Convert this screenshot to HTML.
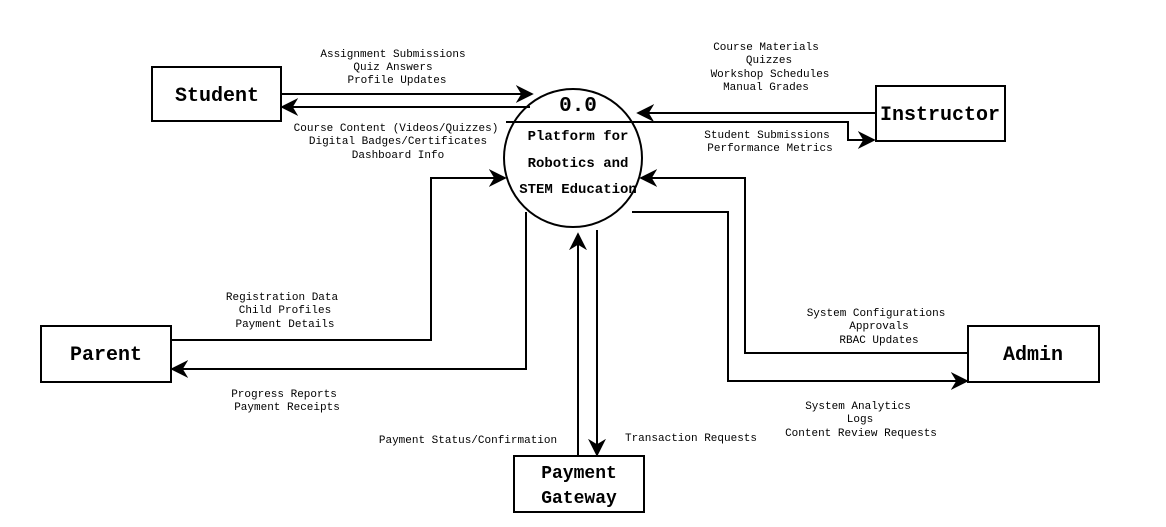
<!DOCTYPE html>
<html><head><style>body{margin:0;background:#fff}svg{display:block}text{font-family:"Liberation Mono",monospace;fill:#000}</style></head><body>
<svg width="1166" height="527" viewBox="0 0 1166 527">
<defs>
<marker id="b" viewBox="0 0 10 10" refX="9" refY="5" markerWidth="18" markerHeight="18" orient="auto" markerUnits="userSpaceOnUse"><path d="M0,0 L10,5 L0,10 L3,5 z"/></marker></defs>
<g fill="none" stroke="#000" stroke-width="2">
<rect x="152" y="67" width="129" height="54"/>
<rect x="876" y="86" width="129" height="55"/>
<rect x="41" y="326" width="130" height="56"/>
<rect x="968" y="326" width="131" height="56"/>
<rect x="514" y="456" width="130" height="56"/>
<circle cx="573" cy="158" r="69"/>
<line x1="506" y1="122" x2="640" y2="122"/>
<polyline points="281,94 532,94" marker-end="url(#b)"/>
<polyline points="530,107 282,107" marker-end="url(#b)"/>
<polyline points="876,113 638,113" marker-end="url(#b)"/>
<polyline points="640,122 848,122 848,140 874,140" marker-end="url(#b)"/>
<polyline points="171,340 431,340 431,178 505,178" marker-end="url(#b)"/>
<polyline points="526,212 526,369 172,369" marker-end="url(#b)"/>
<polyline points="968,353 745,353 745,178 641,178" marker-end="url(#b)"/>
<polyline points="632,212 728,212 728,381 967,381" marker-end="url(#b)"/>
<polyline points="578,456 578,234" marker-end="url(#b)"/>
<polyline points="597,230 597,455" marker-end="url(#b)"/>
</g>
<g font-weight="bold" font-size="20" text-anchor="middle">
<text x="217" y="101">Student</text>
<text x="940" y="120">Instructor</text>
<text x="106" y="360">Parent</text>
<text x="1033" y="360">Admin</text>
<text x="579" y="478" font-size="18">Payment</text>
<text x="579" y="503" font-size="18">Gateway</text>
<text x="578" y="111" font-size="21">0.0</text>
<text x="578" y="140" font-size="14">Platform for</text>
<text x="578" y="167" font-size="14">Robotics and</text>
<text x="578" y="193" font-size="14">STEM Education</text>
</g>
<g font-size="11" text-anchor="middle">
<text x="393" y="57">Assignment Submissions</text><text x="393" y="70">Quiz Answers</text><text x="397" y="83">Profile Updates</text>
<text x="396" y="131">Course Content (Videos/Quizzes)</text><text x="398" y="144">Digital Badges/Certificates</text><text x="398" y="158">Dashboard Info</text>
<text x="766" y="50">Course Materials</text><text x="769" y="63">Quizzes</text><text x="770" y="77">Workshop Schedules</text><text x="766" y="90">Manual Grades</text>
<text x="767" y="138">Student Submissions</text><text x="770" y="151">Performance Metrics</text>
<text x="282" y="300">Registration Data</text><text x="285" y="313">Child Profiles</text><text x="285" y="327">Payment Details</text>
<text x="284" y="397">Progress Reports</text><text x="287" y="410">Payment Receipts</text>
<text x="876" y="316">System Configurations</text><text x="879" y="329">Approvals</text><text x="879" y="343">RBAC Updates</text>
<text x="858" y="409">System Analytics</text><text x="860" y="422">Logs</text><text x="861" y="436">Content Review Requests</text>
<text x="468" y="443">Payment Status/Confirmation</text>
<text x="691" y="441">Transaction Requests</text>
</g>
</svg>
</body></html>
